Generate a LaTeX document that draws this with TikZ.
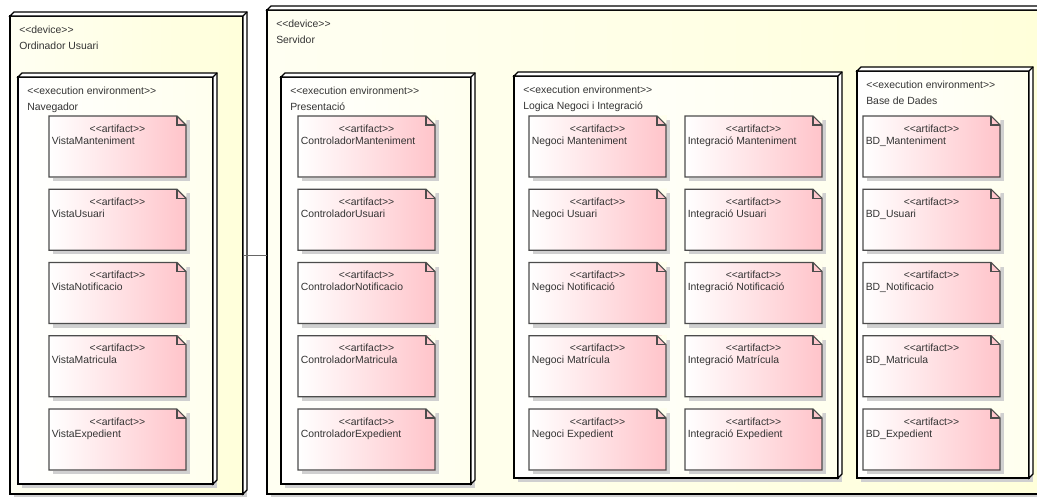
\documentclass[tikz,border=0pt]{standalone}
\usepackage{fontspec}
\newfontfamily\umlfont{Liberation Sans}[Ligatures=TeXOff]
\usetikzlibrary{fit, shadows}

\definecolor{devfill}{RGB}{255,255,218}
\definecolor{envfill}{RGB}{255,255,238}
\definecolor{artpink}{RGB}{255,196,202}
\definecolor{shadowgray}{RGB}{208,208,208}

\tikzset{
    txt/.style={inner sep=0pt, text=black!80, font=\umlfont\fontsize{7.8}{9}\selectfont},
    boxshadow/.style={drop shadow={shadow xshift=3pt, shadow yshift=-3pt,
        fill=shadowgray, opacity=1}},
    uml/.style={draw, line width=1pt, inner sep=0pt, outer sep=0pt, boxshadow},
    device/.style={uml, left color=devfill!35!white, right color=devfill},
    env/.style={uml, left color=white, right color=envfill},
    face/.style={fill=white, line width=1pt},
    head/.style 2 args={
        label={[txt, anchor=base west, shift={(9,17)}]north west:{<<#1>>}},
        label={[txt, anchor=base west, shift={(9,33)}]north west:{#2}}},
    artifact/.style={anchor=north west, inner sep=0pt, outer sep=0pt,
        minimum width=102.75pt, minimum height=45.75pt,
        left color=white, right color=artpink, boxshadow,
        label={[txt, anchor=base, shift={(0,16)}]north:{<<artifact>>}},
        label={[txt, anchor=base west, shift={(2.5,28)}]north west:{#1}}},
    artline/.style={draw=black!70, line width=0.8pt, line join=miter}
}

\begin{document}
\begin{tikzpicture}[x=0.75pt, y=-0.75pt]
    \useasboundingbox (0,0) rectangle (1037,496);

    % devices
    \node (usr) [device, head={device}{Ordinador Usuari},
        fit={(10,16) (243,494)}] {};
    \node (srv) [device, head={device}{Servidor},
        fit={(267,10) (1042,494)}] {};
    \foreach \b in {usr, srv} {
        \filldraw[face] (\b.north west) -- ++(4,-4)
            -| ([shift={(4,-4)}]\b.south east) -- (\b.south east)
            -- (\b.north east) -- cycle;
        \draw[face] (\b.north east) -- ++(4,-4);
    }
    \draw[black!60, line width=0.6pt] (usr.east) -- (usr.east -| srv.west);

    % execution environments
    \node (nav) [env, head={execution environment}{Navegador},
        fit={(18,77) (213,484)}] {};
    \node (pres) [env, head={execution environment}{Presentació},
        fit={(281,77) (471,484)}] {};
    \node (logic) [env, head={execution environment}{Logica Negoci i Integració},
        fit={(514,76) (838,478)}] {};
    \node (bdenv) [env, head={execution environment}{Base de Dades},
        fit={(857,71) (1029,478)}] {};
    \foreach \b in {nav, pres, logic, bdenv} {
        \filldraw[face] (\b.north west) -- ++(4,-4)
            -| ([shift={(4,-4)}]\b.south east) -- (\b.south east)
            -- (\b.north east) -- cycle;
        \draw[face] (\b.north east) -- ++(4,-4);
    }

    % artifacts
    \foreach \nm [count=\i from 0] in {VistaManteniment, VistaUsuari,
            VistaNotificacio, VistaMatricula, VistaExpedient}
        \node (nav\i) [artifact=\nm] at (49,{116+73.25*\i}) {};
    \foreach \nm [count=\i from 0] in {ControladorManteniment, ControladorUsuari,
            ControladorNotificacio, ControladorMatricula, ControladorExpedient}
        \node (pres\i) [artifact=\nm] at (298,{116+73.25*\i}) {};
    \foreach \nm [count=\i from 0] in {Negoci Manteniment, Negoci Usuari,
            Negoci Notificació, Negoci Matrícula, Negoci Expedient}
        \node (neg\i) [artifact=\nm] at (529,{116+73.25*\i}) {};
    \foreach \nm [count=\i from 0] in {Integració Manteniment, Integració Usuari,
            Integració Notificació, Integració Matrícula, Integració Expedient}
        \node (int\i) [artifact=\nm] at (685,{116+73.25*\i}) {};
    \foreach \nm [count=\i from 0] in {BD\_Manteniment, BD\_Usuari,
            BD\_Notificacio, BD\_Matricula, BD\_Expedient}
        \node (bd\i) [artifact=\nm] at (863,{116+73.25*\i}) {};

    % folded corners
    \foreach \a in {nav, pres, neg, int, bd}
    \foreach \i in {0,...,4} {
        \fill[envfill] ([shift={(-9,0)}]\a\i.north east) -- ([shift={(1,-1)}]\a\i.north east)
            -- ([shift={(0,9)}]\a\i.north east) -- cycle;
        \draw[artline] (\a\i.south west) -- (\a\i.north west)
            -- ([shift={(-9,0)}]\a\i.north east) -- ([shift={(0,9)}]\a\i.north east)
            -- (\a\i.south east) -- cycle;
        \draw[artline] ([shift={(-9,0)}]\a\i.north east)
            |- ([shift={(0,9)}]\a\i.north east);
    }
\end{tikzpicture}
\end{document}
